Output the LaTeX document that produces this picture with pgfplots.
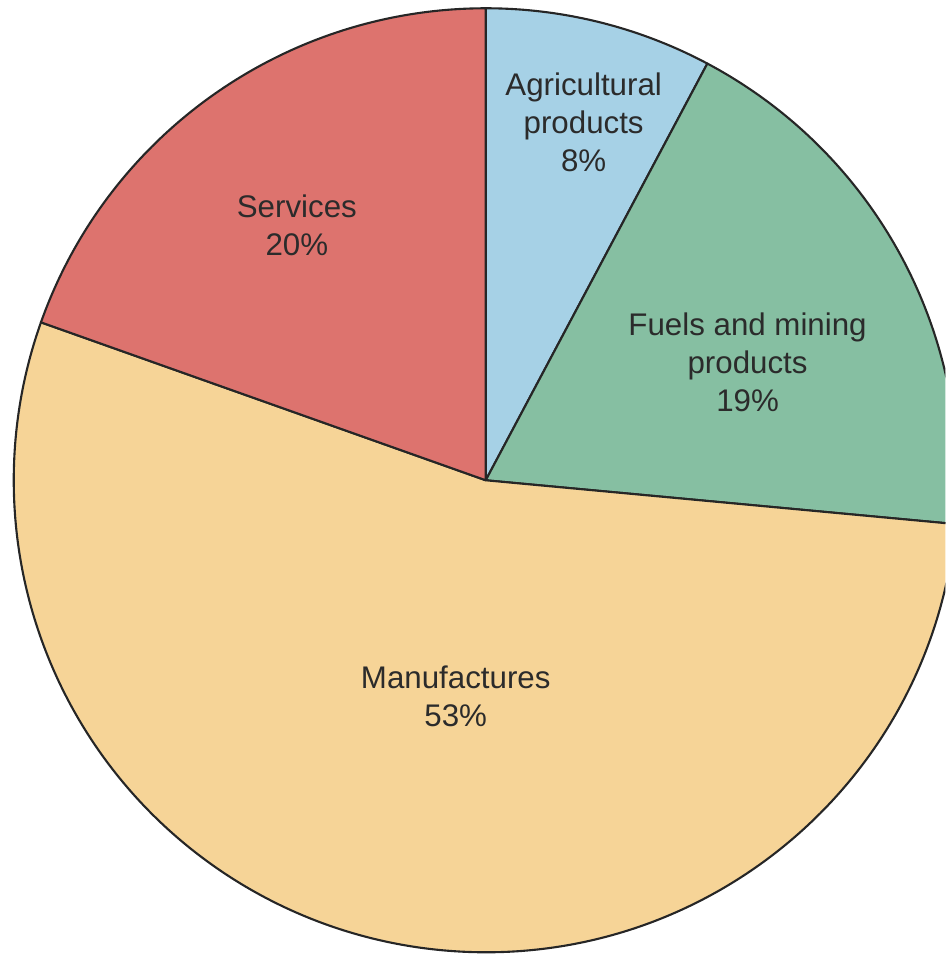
\documentclass[border=0pt]{standalone}
\usepackage{fontspec}
\setmainfont{Liberation Sans}
\usepackage{pgfplots}
\usepackage{pgfplotstable}
\pgfplotsset{compat=1.18}
\definecolor{c0}{HTML}{A6D1E6}
\definecolor{c1}{HTML}{86BFA2}
\definecolor{c2}{HTML}{F6D497}
\definecolor{c3}{HTML}{DD736E}
\definecolor{txt}{HTML}{2B2B2B}

% shares in percent, clockwise from 12 o'clock
\pgfplotstableread{
share
7.78
18.70
53.95
19.57
}\piedata

\begin{document}
\begin{tikzpicture}
\begin{axis}[
    x=0.01cm, y=0.01cm,
    xmin=0, xmax=946, ymin=0, ymax=955,
    scale only axis,
    hide axis,
    clip=true,
]
\def\startang{90}
\pgfplotsforeachungrouped \i in {0,...,3}{
    \pgfplotstablegetelem{\i}{share}\of\piedata
    \pgfmathsetmacro\endang{\startang - 3.6*\pgfplotsretval}
    \edef\cmd{\noexpand\filldraw[fill=c\i, draw=black!85, line width=0.6pt, line join=round]
        (axis cs:486,475) -- ++(\startang:4.72cm)
        arc[start angle=\startang, end angle=\endang, radius=4.72cm] -- cycle;}
    \cmd
    \global\let\startang\endang
}
\begin{scope}[every node/.style={align=center, text=txt,
    font=\fontsize{8.9}{10.8}\selectfont}]
\node at (axis cs:584,833) {Agricultural\\products\\8\%};
\node at (axis cs:748,593) {Fuels and mining\\products\\19\%};
\node at (axis cs:456,259) {Manufactures\\53\%};
\node at (axis cs:297,730) {Services\\20\%};
\end{scope}
\end{axis}
\pgfresetboundingbox
\useasboundingbox (0,0) rectangle (9.46cm,9.55cm);
\end{tikzpicture}
\end{document}
